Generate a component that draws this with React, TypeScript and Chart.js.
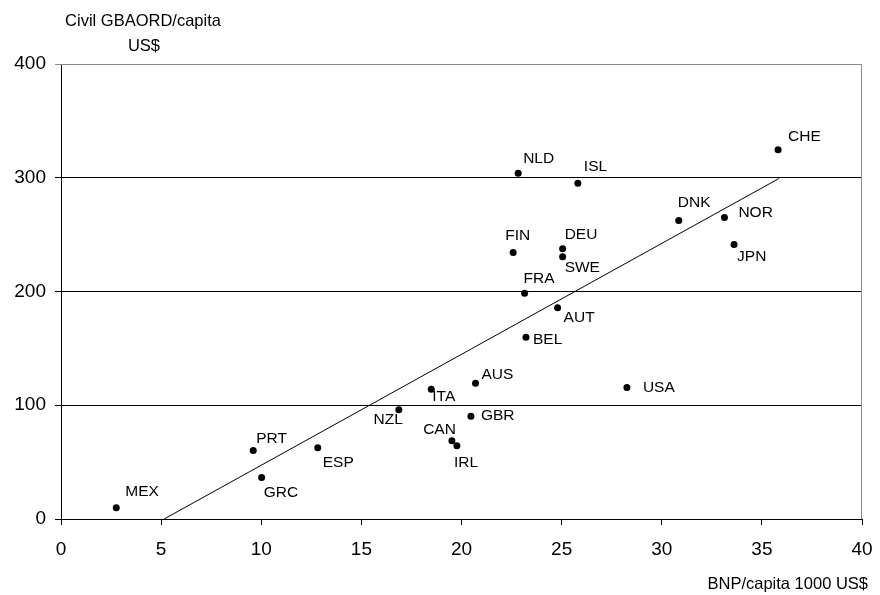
import React, { useEffect, useRef } from "react";
import { Chart, registerables } from "chart.js";

Chart.register(...registerables);

// Country codes and their values
const countries = [
  "MEX", "PRT", "GRC", "ESP", "NZL", "ITA", "AUS", "GBR", "CAN", "IRL", "USA",
  "NLD", "ISL", "FIN", "DEU", "SWE", "FRA", "AUT", "BEL", "CHE", "DNK", "NOR", "JPN",
];
// BNP per capita, 1000 US$
const gdpPerCapita = [
  2.76, 9.6, 10.02, 12.82, 16.87, 18.49, 20.7, 20.47, 19.52, 19.77, 28.26,
  22.83, 25.81, 22.58, 25.05, 25.05, 23.15, 24.8, 23.22, 35.81, 30.85, 33.13, 33.61,
];
// Civil GBAORD per capita, US$
const gbaordPerCapita = [
  9.8, 60.2, 36.5, 62.6, 96, 114.1, 119.4, 90.4, 68.7, 64.4, 115.6,
  304, 295.2, 234.3, 237.5, 230.5, 198.5, 185.7, 159.8, 324.6, 262.4, 265, 241.3,
];

// Fitted trend line endpoints
const trendX = [5.15, 35.85];
const trendY = [0, 299.3];

const xTicks = [0, 5, 10, 15, 20, 25, 30, 35, 40];
const yTicks = [0, 100, 200, 300, 400];

const yTitleLines = ["Civil GBAORD/capita", "US$"];
const xTitle = "BNP/capita 1000 US$";

// Label placement around each dot (pixel offsets; "r" = text ends at dx)
const labelPlacement: Record<string, [number, number, string?]> = {
  MEX: [9, -16], PRT: [3, -12], GRC: [2, 15], ESP: [5, 15],
  NZL: [4, 10, "r"], ITA: [1, 8], AUS: [6, -8], GBR: [10, 0],
  CAN: [4, -11, "r"], IRL: [-3, 17], USA: [16, 0], NLD: [5, -14],
  ISL: [6, -16], FIN: [-8, -17], DEU: [2, -14], SWE: [2, 11],
  FRA: [-1, -14], AUT: [6, 10], BEL: [7, 2], CHE: [10, -13],
  DNK: [-1, -18], NOR: [14, -5], JPN: [3, 12],
};

const FONT = "'Liberation Sans', Arial, sans-serif";

const annotations = {
  id: "annotations",
  afterDatasetsDraw(chart: any) {
    const { ctx, chartArea, scales } = chart;
    ctx.save();
    // frame on top and right
    ctx.strokeStyle = "#8a8a8a";
    ctx.lineWidth = 1;
    ctx.beginPath();
    ctx.moveTo(chartArea.left, chartArea.top + 0.5);
    ctx.lineTo(chartArea.right - 0.5, chartArea.top + 0.5);
    ctx.lineTo(chartArea.right - 0.5, chartArea.bottom);
    ctx.stroke();

    // point labels
    ctx.fillStyle = "#000";
    ctx.font = `15.5px ${FONT}`;
    ctx.textBaseline = "middle";
    countries.forEach((c, i) => {
      const px = scales.x.getPixelForValue(gdpPerCapita[i]);
      const py = scales.y.getPixelForValue(gbaordPerCapita[i]);
      const [dx, dy, al] = labelPlacement[c];
      ctx.textAlign = al === "r" ? "right" : "left";
      ctx.fillText(c, px + dx, py + dy);
    });

    // axis titles
    ctx.font = `16.5px ${FONT}`;
    ctx.textAlign = "center";
    ctx.fillText(yTitleLines[0], 143, 21);
    ctx.fillText(yTitleLines[1], 144, 46);
    ctx.textAlign = "right";
    ctx.fillText(xTitle, 868, 584);
    ctx.restore();
  },
};

export default function App() {
  const ref = useRef<HTMLCanvasElement | null>(null);

  useEffect(() => {
    if (!ref.current) return;
    const chart = new Chart(ref.current, {
      type: "scatter",
      data: {
        datasets: [
          {
            type: "scatter",
            data: countries.map((_, i) => ({ x: gdpPerCapita[i], y: gbaordPerCapita[i] })),
            backgroundColor: "#000",
            borderColor: "#000",
            pointRadius: 3.5,
            borderWidth: 0,
            order: 0,
          },
          {
            type: "line",
            data: trendX.map((x, i) => ({ x, y: trendY[i] })),
            borderColor: "#000",
            borderWidth: 1,
            pointRadius: 0,
            fill: false,
            order: 1,
          } as any,
        ],
      },
      options: {
        responsive: false,
        animation: false,
        layout: { padding: { top: 64, right: 18, left: 0, bottom: 0 } },
        plugins: {
          legend: { display: false },
          tooltip: { enabled: false },
        },
        scales: {
          x: {
            type: "linear",
            min: 0,
            max: 40,
            afterBuildTicks: (s: any) => {
              s.ticks = xTicks.map((v) => ({ value: v }));
            },
            afterFit: (s: any) => {
              s.height = 76;
              s.paddingLeft = 0;
              s.paddingRight = 0;
            },
            ticks: {
              color: "#000",
              font: { family: FONT, size: 19 },
              padding: 13,
              maxRotation: 0,
            },
            grid: {
              drawOnChartArea: false,
              drawTicks: true,
              tickLength: 6,
              color: "#000",
            },
            border: { color: "#000", width: 1 },
          },
          y: {
            type: "linear",
            min: 0,
            max: 400,
            afterBuildTicks: (s: any) => {
              s.ticks = yTicks.map((v) => ({ value: v }));
            },
            afterFit: (s: any) => {
              s.width = 61;
              s.paddingTop = 0;
              s.paddingBottom = 0;
            },
            ticks: {
              color: "#000",
              font: { family: FONT, size: 19 },
              padding: 9,
            },
            grid: {
              drawTicks: true,
              tickLength: 6,
              color: (c: any) => (c.tick && c.tick.value === 400 ? "#8a8a8a" : "#000"),
            },
            border: { color: "#000", width: 1 },
          },
        },
      },
      plugins: [annotations],
    });
    return () => chart.destroy();
  }, []);

  return (
    <canvas
      ref={ref}
      width={880}
      height={595}
      style={{ position: "absolute", left: 0, top: 0, display: "block", background: "#fff" }}
    />
  );
}
